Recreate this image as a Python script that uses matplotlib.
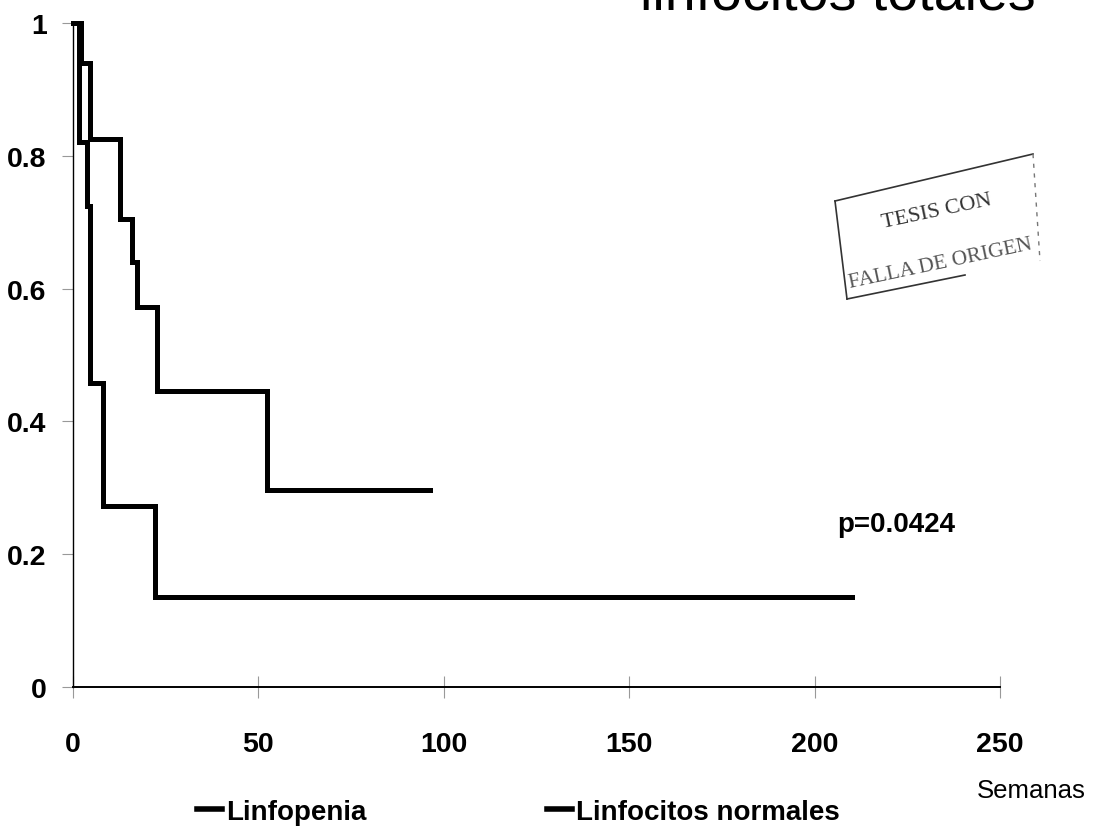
import matplotlib
matplotlib.use("Agg")
import matplotlib.pyplot as plt
from matplotlib.lines import Line2D

# Kaplan-Meier estimates, time in weeks
linfopenia_t = [0, 1.6, 3.8, 4.6, 8.1, 22.1, 210]
linfopenia_s = [1.0, 0.821, 0.724, 0.458, 0.272, 0.135, 0.135]

normales_t = [0, 2.2, 4.6, 12.7, 15.9, 17.3, 22.7, 52.3, 96.3]
normales_s = [1.0, 0.94, 0.825, 0.705, 0.64, 0.572, 0.446, 0.297, 0.297]

x_ticks = [0, 50, 100, 150, 200, 250]
y_ticks = [0, 0.2, 0.4, 0.6, 0.8, 1]
y_labels = ["0", "0.2", "0.4", "0.6", "0.8", "1"]

sans = ["Liberation Sans", "DejaVu Sans"]
serif = ["Liberation Serif", "DejaVu Serif"]

W, H = 1099, 837
fig = plt.figure(figsize=(W / 100, H / 100), dpi=100)
ax = fig.add_axes([73 / W, 1 - 688 / H, (1000 - 73) / W, (688 - 24) / H])

ax.step(linfopenia_t, linfopenia_s, where="post", color="black", lw=3.6,
        solid_joinstyle="miter", clip_on=False, zorder=3)
ax.step(normales_t, normales_s, where="post", color="black", lw=3.6,
        solid_joinstyle="miter", clip_on=False, zorder=3)

ax.set_xlim(0, 250)
ax.set_ylim(0, 1)
for s in ["top", "right"]:
    ax.spines[s].set_visible(False)
ax.spines["left"].set_linewidth(1.0)
ax.spines["bottom"].set_linewidth(1.4)

ax.set_xticks(x_ticks)
ax.set_yticks(y_ticks)
ax.set_yticklabels(y_labels)
ax.tick_params(axis="x", direction="inout", length=16, width=0.8,
               color="#999999", pad=24)
ax.tick_params(axis="y", direction="out", length=8, width=0.8,
               color="#999999", pad=11)
for lab in ax.get_xticklabels() + ax.get_yticklabels():
    lab.set_family(sans)
    lab.set_fontweight("bold")
    lab.set_fontsize(20.5)

ax.text(206, 0.245, "p=0.0424", family=sans, fontweight="bold",
        fontsize=20, va="center", ha="left")

# title runs off the top edge of the page
fig.text(640 / W, 1 - 10 / H, "linfocitos totales", family=sans,
         fontsize=40, va="baseline", ha="left")

fig.text(977 / W, 1 - 791 / H, "Semanas", family=sans, fontsize=18.5,
         va="center", ha="left")

handles = [Line2D([], [], color="black", lw=4),
           Line2D([], [], color="black", lw=4)]
fig.legend(handles, ["Linfopenia", "Linfocitos normales"], ncol=2,
           loc="center left", bbox_to_anchor=(197 / W, 1 - 813 / H),
           frameon=False, borderpad=0, borderaxespad=0,
           handlelength=0.9, handletextpad=0.15, columnspacing=6.5,
           prop={"family": sans, "weight": "bold", "size": 20})

# rubber stamp
def fx(px, py):
    return px / W, 1 - py / H

stamp_kw = dict(transform=fig.transFigure, color="#333333", lw=1.2)
fig.add_artist(Line2D(*zip(fx(835, 202), fx(1033, 155)), **stamp_kw))
fig.add_artist(Line2D(*zip(fx(835, 202), fx(847, 300)), **stamp_kw))
fig.add_artist(Line2D(*zip(fx(847, 300), fx(965, 276)), **stamp_kw))
fig.add_artist(Line2D(*zip(fx(1033, 155), fx(1040, 262)), ls=(0, (3, 4)),
                      transform=fig.transFigure, color="#777777", lw=1.0))
fig.text(*fx(937, 212), "TESIS CON", family=serif, fontsize=16, rotation=12,
         rotation_mode="anchor", ha="center", va="center", color="#333333")
fig.text(*fx(940, 264), "FALLA DE ORIGEN", family=serif, fontsize=15.5, rotation=12,
         rotation_mode="anchor", ha="center", va="center", color="#555555")

fig.savefig("out.png", dpi=100)
